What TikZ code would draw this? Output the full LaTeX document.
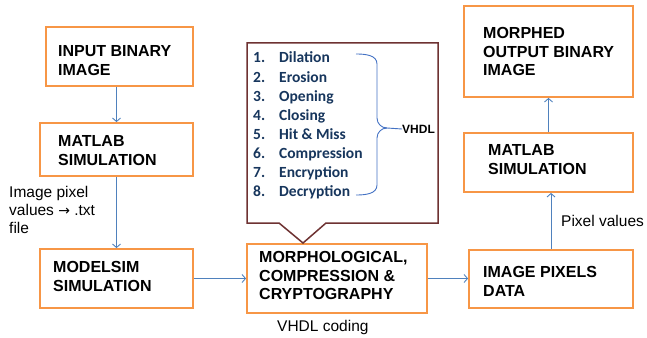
\documentclass[tikz,border=0pt]{standalone}
\usepackage{fontspec}
\setmainfont{Liberation Sans}
\newfontfamily\listfont{Carlito}
\newfontfamily\symfont{DejaVu Sans}
\usetikzlibrary{arrows.meta}
\definecolor{boxorange}{HTML}{F79646}
\definecolor{arrblue}{HTML}{4F81BD}
\definecolor{callbrown}{HTML}{6E3232}
\definecolor{listnavy}{HTML}{17365D}
\definecolor{braceblue}{HTML}{4472C4}
\tikzset{
  obox/.style={draw=boxorange, line width=1.8pt, fill=white, inner sep=0pt},
  btext/.style={anchor=north west, inner sep=0pt, align=left, font=\fontsize{16}{18.5}\selectfont\bfseries},
  ltext/.style={anchor=north west, inner sep=0pt, align=left, font=\fontsize{15.5}{18}\selectfont},
  item/.style={anchor=base west, inner sep=0pt, text=listnavy, font=\listfont\fontsize{15.5}{18}\selectfont\bfseries},
  conn/.style={draw=arrblue, line width=0.9pt, -{Straight Barb[length=3.5pt,width=8pt]}},
}
\begin{document}
\begin{tikzpicture}[x=1pt,y=-1pt]
\useasboundingbox (0,0) rectangle (647,337);
% boxes
\node[obox, minimum width=147pt, minimum height=59pt] (inp) at (119.5,56.5) {};
\node[obox, minimum width=153pt, minimum height=53pt] (m1) at (116.5,149.5) {};
\node[obox, minimum width=153pt, minimum height=59pt] (mod) at (116.5,278.5) {};
\node[obox, minimum width=180pt, minimum height=69pt] (morph) at (337,278.5) {};
\node[obox, minimum width=164pt, minimum height=58pt] (pix) at (551,279) {};
\node[obox, minimum width=169pt, minimum height=59pt] (m2) at (548.5,162.5) {};
\node[obox, minimum width=169pt, minimum height=91pt] (out) at (548.5,51.5) {};
% box texts
\node[btext] (tinp) at (58,45.5) {INPUT BINARY\\IMAGE};
\node[btext] (tm1) at (58,135.5) {MATLAB\\SIMULATION};
\node[btext] (tmod) at (53,261.5) {MODELSIM\\SIMULATION};
\node[btext] (tmorph) at (259,251.5) {MORPHOLOGICAL,\\COMPRESSION \&\\CRYPTOGRAPHY};
\node[btext] (tpix) at (483,266.5) {IMAGE PIXELS\\DATA};
\node[btext] (tm2) at (488,144.5) {MATLAB\\SIMULATION};
\node[btext] (tout) at (483,27.5) {MORPHED\\OUTPUT BINARY\\IMAGE};
% labels
\node[ltext] (lab1) at (9,186.5) {Image pixel\\values {\symfont\fontsize{14}{18}\selectfont →} .txt\\file};
\node[ltext, anchor=base west] (lab2) at (561,226) {Pixel values};
\node[ltext, anchor=base west] (lab3) at (277,331) {VHDL coding};
% connectors
\draw[conn] (inp.south -| m1.north) -- (m1.north);
\draw[conn] (m1.south) -- (mod.north);
\draw[conn] (mod.east) -- (morph.west |- mod.east);
\draw[conn] (morph.east) -- (pix.west |- morph.east);
\draw[conn] (pix.north) -- (pix.north |- m2.south);
\draw[conn] (m2.north) -- (m2.north |- out.south);
% callout
\draw[callbrown, line width=1.5pt, fill=white, line join=miter]
  (247,43) -- (438,43) -- (438,223) -- (326,223) -- (303,243) -- (279,223) -- (247,223) -- cycle;
\node[item] (i1) at (253,63) {\makebox[26pt][l]{1.}Dilation};
\node[item] (i2) at (253,82) {\makebox[26pt][l]{2.}Erosion};
\node[item] (i3) at (253,101) {\makebox[26pt][l]{3.}Opening};
\node[item] (i4) at (253,120) {\makebox[26pt][l]{4.}Closing};
\node[item] (i5) at (253,139) {\makebox[26pt][l]{5.}Hit \& Miss};
\node[item] (i6) at (253,158) {\makebox[26pt][l]{6.}Compression};
\node[item] (i7) at (253,177) {\makebox[26pt][l]{7.}Encryption};
\node[item] (i8) at (253,196) {\makebox[26pt][l]{8.}Decryption};
\node[anchor=west, inner sep=0pt, font=\fontsize{12}{14}\selectfont\bfseries] (vhdl) at (402,129) {VHDL};
\draw[braceblue, line width=0.9pt]
  (356,54) to[out=0,in=90] (377,64) -- (377,118) to[out=-90,in=180] (387,128) -- (vhdl.west);
\draw[braceblue, line width=0.9pt]
  (387,128) to[out=180,in=90] (377,138) -- (377,185) to[out=-90,in=0] (356,195);
\end{tikzpicture}
\end{document}
